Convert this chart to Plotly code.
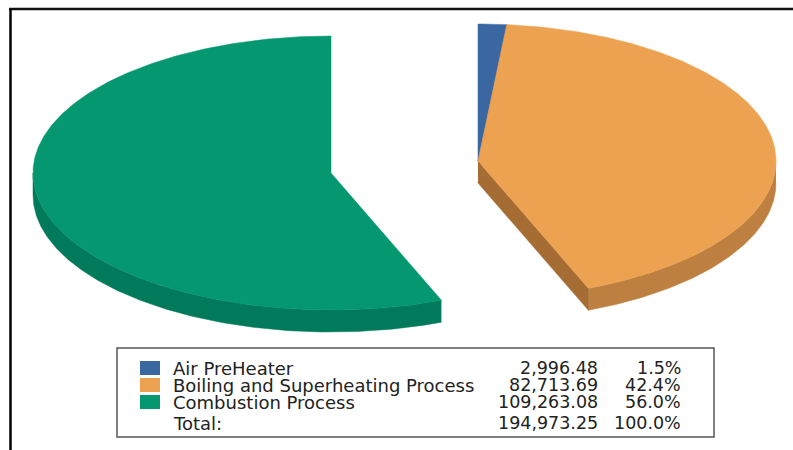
"""
Exploded 3D style pie of process heat loss, with a summary table underneath.
Plotly pies cannot be tilted, so the slices are built as filled scatter traces
whose angles come from the values.
"""

import numpy as np
import plotly.graph_objects as go

names = ['Air PreHeater', 'Boiling and Superheating Process',
         'Combustion Process']
values = [2996.48, 82713.69, 109263.08]
value_labels = ['2,996.48', '82,713.69', '109,263.08']
percent_labels = ['1.5%', '42.4%', '56.0%']
total_label = 'Total:'
total_value = '194,973.25'
total_percent = '100.0%'

top_colors = ['#3a66a1', '#eda252', '#05976f']
rim_colors = ['#2c4f7c', '#bd8040', '#007a5a']
cut_colors = ['#2c4f7c', '#a56d33', '#006a4e']

# pie centre of each slice (the slices are pulled apart), radii and thickness
centers = [(478, 161), (478, 161), (331, 173)]
RX, RY, DEPTH = 298, 137, 22
FONT = 'DejaVu Sans'
TEXT_COLOR = '#222222'
NAME_SIZE = 18
NUMBER_SIZE = 17.5


def arc(center, start, end):
    """Points on the ellipse, angles in degrees clockwise from the top."""
    angles = np.radians(np.linspace(start, end, max(int(end - start) * 2, 2)))
    return (center[0] + RX * np.sin(angles), center[1] - RY * np.cos(angles))


def add_poly(fig, xs, ys, color):
    fig.add_trace(go.Scatter(x=xs, y=ys, mode='lines', fill='toself',
                             fillcolor=color, line=dict(width=0.5, color=color),
                             hoverinfo='skip', showlegend=False))


fig = go.Figure()

total = sum(values)
start = 0
for i, value in enumerate(values):
    end = start + value / total * 360
    cx, cy = centers[i]

    # outer wall, only the part of the arc facing the viewer
    low, high = max(start, 90), min(end, 270)
    if high > low:
        ax, ay = arc(centers[i], low, high)
        add_poly(fig, np.r_[ax, ax[::-1]], np.r_[ay, ay[::-1] + DEPTH],
                 rim_colors[i])

    # cut wall, visible when the closing edge runs down and to the right
    if end < 180:
        ex, ey = arc(centers[i], end, end + 1)
        add_poly(fig, [cx, ex[0], ex[0], cx],
                 [cy, ey[0], ey[0] + DEPTH, cy + DEPTH], cut_colors[i])

    ax, ay = arc(centers[i], start, end)
    add_poly(fig, np.r_[cx, ax, cx], np.r_[cy, ay, cy], top_colors[i])
    start = end

# summary table
rows_y = [368, 385, 402]
for i, name in enumerate(names):
    fig.add_shape(type='rect', x0=140, x1=160, y0=rows_y[i] - 7,
                  y1=rows_y[i] + 7, fillcolor=top_colors[i], line_width=0)

labels = names + [total_label]
amounts = value_labels + [total_value]
percents = percent_labels + [total_percent]
for y, name, amount, percent in zip(rows_y + [423], labels, amounts, percents):
    for x, text, anchor, size in [(171, name, 'left', NAME_SIZE),
                                  (600, amount, 'right', NUMBER_SIZE),
                                  (683, percent, 'right', NUMBER_SIZE)]:
        fig.add_annotation(x=x, y=y, text=text, xanchor=anchor,
                           yanchor='middle', showarrow=False,
                           font=dict(family=FONT, size=size,
                                     color=TEXT_COLOR))

fig.add_shape(type='rect', x0=117, x1=714, y0=348, y1=437,
              line=dict(color='#555555', width=1.5))

# black frame around the picture, open at the bottom and right
fig.add_shape(type='line', x0=9, x1=793, y0=9, y1=9,
              line=dict(color='#111111', width=2.5))
fig.add_shape(type='line', x0=10.5, x1=10.5, y0=9, y1=450,
              line=dict(color='#000000', width=2.5))

fig.update_layout(width=793, height=450, margin=dict(l=0, r=0, t=0, b=0),
                  paper_bgcolor='white', plot_bgcolor='white',
                  xaxis=dict(range=[0, 793], visible=False),
                  yaxis=dict(range=[450, 0], visible=False))

# the page's default body margin would push the figure 8px down and right
fig.write_html('out.html', config={'displayModeBar': False},
               post_script="document.body.style.margin = '0';")
